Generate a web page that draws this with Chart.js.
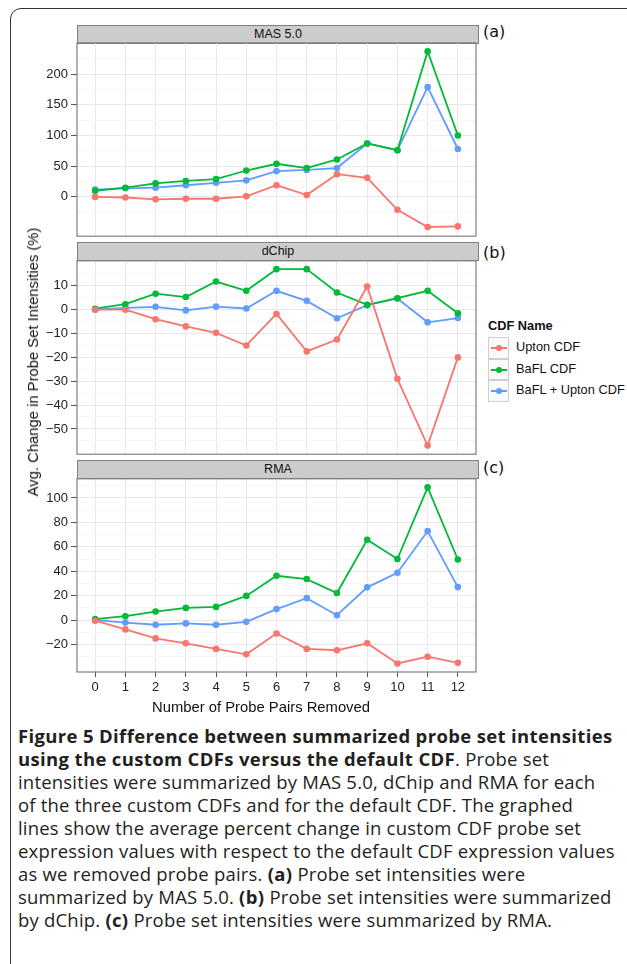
<!DOCTYPE html>
<html>
<head>
<meta charset="utf-8">
<script src="https://cdn.jsdelivr.net/npm/chart.js@4/dist/chart.umd.min.js"></script>
<style>
body{margin:0;width:627px;height:964px;overflow:hidden;background:#fff;position:relative;font-family:"Liberation Sans",Arial,sans-serif;}
.frame{position:absolute;left:10px;top:8px;width:640px;height:1000px;border:1.5px solid #333;border-radius:11px;}
.box{position:absolute;}
.strip{position:absolute;left:77px;width:400px;height:17px;background:#cccccc;border:1px solid #7f7f7f;font-size:12.5px;line-height:17px;text-align:center;color:#111;}
.plab{position:absolute;left:483px;font-family:"DejaVu Sans",sans-serif;font-size:16px;color:#111;}
.ytitle{position:absolute;left:33px;top:362px;transform:translate(-50%,-50%) rotate(-90deg);white-space:nowrap;font-size:14.8px;color:#111;}
.xtitle{position:absolute;left:261px;top:707px;transform:translate(-50%,-50%);white-space:nowrap;font-size:14.8px;color:#111;}
.legend{position:absolute;left:488px;top:318px;font-size:12.8px;color:#111;}
.legend .ttl{font-weight:bold;height:19px;}
.legend .row{height:21.7px;position:relative;}
.legend .key{position:absolute;left:0;top:0;width:19px;height:19.7px;border:1px solid #cfcfcf;background:#fafafa;}
.legend .ln{position:absolute;left:2px;top:9px;width:16px;height:2px;}
.legend .dt{position:absolute;left:7px;top:7px;width:6px;height:6px;border-radius:3px;}
.legend .tx{position:absolute;left:28px;top:2px;white-space:nowrap;}
.caption{position:absolute;left:18px;top:724px;font-family:"Open Sans",sans-serif;font-size:18.5px;letter-spacing:0.2px;line-height:23px;color:#231f20;white-space:nowrap;}
.caption b{font-weight:bold;letter-spacing:0.35px;}
</style>
</head>
<body>
<div class="frame"></div>

<div class="strip" style="top:25px">MAS 5.0</div>
<div class="strip" style="top:242px">dChip</div>
<div class="strip" style="top:460px">RMA</div>
<div class="plab" style="top:22px">(a)</div>
<div class="plab" style="top:243px">(b)</div>
<div class="plab" style="top:458px">(c)</div>

<div class="box" style="left:0;top:32px;width:480px;height:215px"><canvas id="gmas"></canvas></div>
<div class="box" style="left:0;top:250px;width:480px;height:215px"><canvas id="gdchip"></canvas></div>
<div class="box" style="left:0;top:468px;width:480px;height:234px"><canvas id="grma"></canvas></div>

<div class="ytitle">Avg. Change in Probe Set Intensities (%)</div>
<div class="xtitle">Number of Probe Pairs Removed</div>

<div class="legend" id="leyenda"><div class="ttl">CDF Name</div></div>

<div class="caption">
<b>Figure 5 Difference between summarized probe set intensities</b><br>
<b>using the custom CDFs versus the default CDF</b>. Probe set<br>
intensities were summarized by MAS 5.0, dChip and RMA for each<br>
of the three custom CDFs and for the default CDF. The graphed<br>
lines show the average percent change in custom CDF probe set<br>
expression values with respect to the default CDF expression values<br>
as we removed probe pairs. <b>(a)</b> Probe set intensities were<br>
summarized by MAS 5.0. <b>(b)</b> Probe set intensities were summarized<br>
by dChip. <b>(c)</b> Probe set intensities were summarized by RMA.
</div>

<script>
// datos
var probes=[0,1,2,3,4,5,6,7,8,9,10,11,12];
var series=["Upton CDF","BaFL CDF","BaFL + Upton CDF"];
var colores=["#F8766D","#00BA38","#619CFF"];

var masUpton=[0,-1,-4,-3,-3,1,19,3,37,31,-21,-49,-48];
var masBafl=[10,15,22,26,29,43,54,47,61,87,76,237,100];
var masBoth=[12,14,15,19,23,27,42,44,47,87,76,179,78];

var dchipUpton=[0,0,-4,-7,-9.7,-15,-1.8,-17.5,-12.5,9.7,-29,-57,-20];
var dchipBafl=[0.4,2.3,6.7,5.3,11.8,7.9,17,17,7.2,2,4.8,7.9,-1.5];
var dchipBoth=[0,0.8,1.2,-0.3,1.3,0.5,7.9,3.7,-3.6,1.9,4.7,-5.3,-3.5];

var rmaUpton=[-0.5,-7.6,-15,-19,-23.6,-28,-11,-23.6,-24.7,-19,-35.5,-30,-35];
var rmaBafl=[0.8,3.2,7,10,10.8,19.8,36.3,33.6,22.2,65.8,50,108.7,49.6];
var rmaBoth=[0,-2,-3.8,-2.7,-3.8,-1.4,9,18,4,26.8,38.8,72.9,27];

var masTicks=[0,50,100,150,200];
var masMinor=[-25,25,75,125,175,225];
var dchipTicks=[-50,-40,-30,-20,-10,0,10];
var dchipMinor=[-55,-45,-35,-25,-15,-5,5,15];
var rmaTicks=[-20,0,20,40,60,80,100];
var rmaMinor=[-30,-10,10,30,50,70,90,110];

function Paneles(){
	'use strict';
	var that=this;

	var marco={
		id:'marco',
		afterDraw:function(chart){
			var a=chart.chartArea, c=chart.ctx;
			c.save();
			c.strokeStyle='#7f7f7f';
			c.lineWidth=1.2;
			c.strokeRect(a.left,a.top,a.right-a.left,a.bottom-a.top);
			c.restore();
		}
	};

	that.menos=function(v){
		return v<0 ? "\u2212"+Math.abs(v) : ""+v;
	};

	that.graficar=function(id,valores,mayores,menores,ymin,ymax,conEjeX){
		var datasets=[];
		for(var s=0;s<series.length;s++){
			var pts=[];
			for(var i=0;i<probes.length;i++){
				pts.push({x:probes[i],y:valores[s][i]});
			}
			datasets.push({
				label:series[s],
				data:pts,
				borderColor:colores[s],
				backgroundColor:colores[s],
				borderWidth:1.8,
				pointRadius:3.3,
				pointBorderWidth:0,
				tension:0
			});
		}
		var todos=menores.concat(mayores).sort(function(a,b){return a-b;});
		return new Chart(document.getElementById(id),{
			type:'line',
			data:{datasets:datasets},
			plugins:[marco],
			options:{
				responsive:true,
				maintainAspectRatio:false,
				animation:false,
				events:[],
				layout:{padding:{top:10,bottom:conEjeX?0:10,left:0,right:2}},
				plugins:{legend:{display:false},tooltip:{enabled:false}},
				scales:{
					x:{
						type:'linear',
						min:-0.6,max:12.6,
						afterBuildTicks:function(s){
							s.ticks=probes.map(function(v){return {value:v};});
						},
						afterFit:function(s){ s.height=conEjeX?30:0; },
						border:{display:false},
						grid:{color:'#e8e8e8',lineWidth:1,drawTicks:conEjeX,tickLength:5,tickColor:'#555'},
						ticks:{display:conEjeX,autoSkip:false,maxRotation:0,padding:3,color:'#222',
							font:{family:'Liberation Sans',size:13}}
					},
					y:{
						type:'linear',
						min:ymin,max:ymax,
						afterBuildTicks:function(s){
							s.ticks=todos.map(function(v){return {value:v};});
						},
						afterFit:function(s){ s.width=77; },
						border:{display:false},
						grid:{
							color:function(c){ return mayores.indexOf(c.tick.value)>=0 ? '#e8e8e8' : '#f6f6f6'; },
							tickColor:function(c){ return mayores.indexOf(c.tick.value)>=0 ? '#555' : 'rgba(0,0,0,0)'; },
							tickLength:6
						},
						ticks:{
							autoSkip:false,padding:3,color:'#222',
							font:{family:'Liberation Sans',size:13},
							callback:function(v){ return mayores.indexOf(v)>=0 ? that.menos(v) : ''; }
						}
					}
				}
			}
		});
	};

	that.leyenda=function(){
		var html="";
		for(var s=0;s<series.length;s++){
			html+="<div class='row'><div class='key'><div class='ln' style='background:"+colores[s]+"'></div><div class='dt' style='background:"+colores[s]+"'></div></div><div class='tx'>"+series[s]+"</div></div>";
		}
		document.getElementById("leyenda").insertAdjacentHTML("beforeend",html);
	};
}

var p=new Paneles();
p.graficar("gmas",[masUpton,masBafl,masBoth],masTicks,masMinor,-64,251,false);
p.graficar("gdchip",[dchipUpton,dchipBafl,dchipBoth],dchipTicks,dchipMinor,-60.6,20.5,false);
p.graficar("grma",[rmaUpton,rmaBafl,rmaBoth],rmaTicks,rmaMinor,-42.5,115.7,true);
p.leyenda();
</script>
</body>
</html>
